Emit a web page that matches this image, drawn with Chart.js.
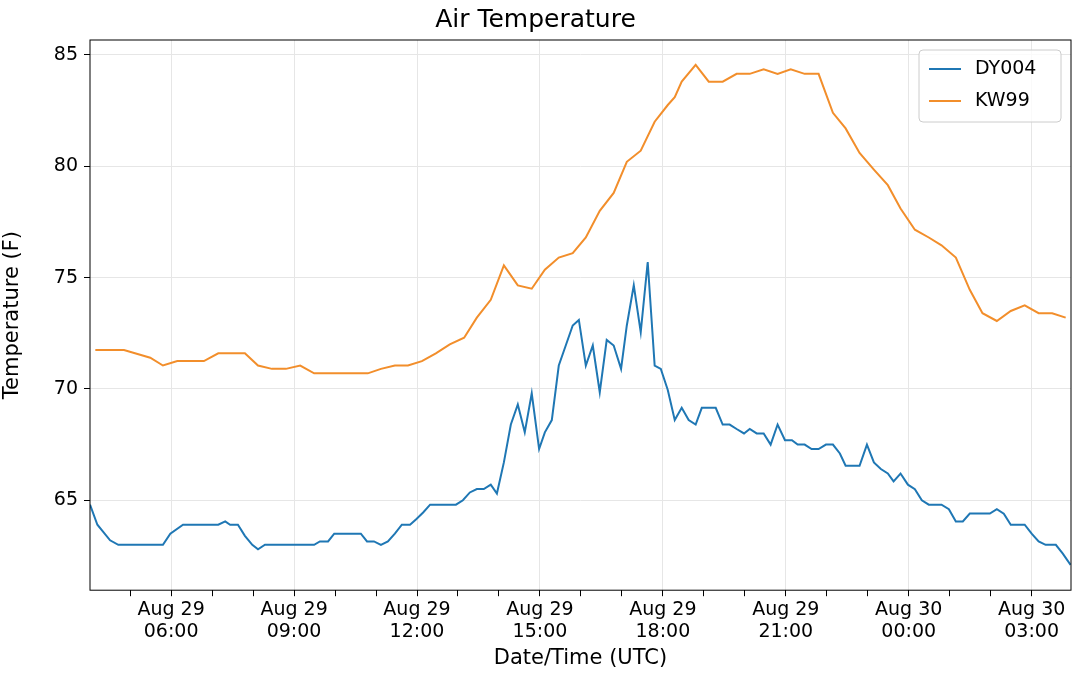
<!DOCTYPE html>
<html>
<head>
<meta charset="utf-8">
<script src="https://cdn.jsdelivr.net/npm/chart.js@4.4.0/dist/chart.umd.min.js"></script>
<style>
  html, body { margin: 0; padding: 0; background: #fff; }
  #wrap { width: 1080px; height: 679px; }
</style>
</head>
<body>
<div id="wrap"><canvas id="myChart"></canvas></div>
<script>
// horas desde Aug 29 00:00 UTC
const dyHoras = [4.02,4.20,4.51,4.71,5.80,5.98,6.29,7.15,7.32,7.44,7.63,7.80,7.98,8.12,8.29,9.49,9.63,9.83,9.98,10.63,10.78,10.95,11.12,11.29,11.46,11.63,11.83,11.98,12.15,12.32,12.95,13.12,13.29,13.46,13.63,13.80,13.95,14.12,14.29,14.46,14.63,14.80,14.98,15.12,15.29,15.46,15.63,15.80,15.95,16.12,16.29,16.46,16.63,16.80,16.98,17.12,17.29,17.46,17.63,17.80,17.95,18.12,18.29,18.46,18.63,18.80,18.95,19.29,19.46,19.63,19.80,19.98,20.12,20.29,20.46,20.63,20.80,20.98,21.15,21.29,21.46,21.63,21.80,21.98,22.15,22.32,22.46,22.63,22.80,22.98,23.15,23.32,23.49,23.63,23.80,23.98,24.15,24.32,24.49,24.80,24.98,25.15,25.32,25.49,25.98,26.15,26.32,26.49,26.83,27.00,27.17,27.34,27.59,27.76,27.95];
const dyTemp = [64.8,63.9,63.2,63.0,63.0,63.5,63.9,63.9,64.05,63.9,63.9,63.4,63.0,62.8,63.0,63.0,63.15,63.15,63.5,63.5,63.15,63.15,63.0,63.15,63.5,63.9,63.9,64.15,64.45,64.8,64.8,65.0,65.35,65.5,65.5,65.7,65.3,66.7,68.4,69.3,68.05,69.8,67.3,68.05,68.6,71.05,71.95,72.85,73.1,71.05,71.95,69.85,72.2,71.95,70.9,72.85,74.65,72.55,75.7,71.05,70.9,69.95,68.6,69.15,68.6,68.4,69.15,69.15,68.4,68.4,68.2,68.0,68.2,68.0,68.0,67.5,68.4,67.7,67.7,67.5,67.5,67.3,67.3,67.5,67.5,67.1,66.55,66.55,66.55,67.5,66.7,66.4,66.2,65.85,66.2,65.7,65.5,65.0,64.8,64.8,64.6,64.05,64.05,64.4,64.4,64.6,64.4,63.9,63.9,63.5,63.15,63.0,63.0,62.6,62.1];

const kwHoras = [4.15,4.85,5.49,5.80,6.15,6.80,7.15,7.80,8.12,8.46,8.80,9.15,9.49,10.80,11.12,11.46,11.78,12.12,12.46,12.80,13.15,13.46,13.80,14.12,14.46,14.80,15.12,15.46,15.80,16.12,16.46,16.80,17.12,17.46,17.80,18.12,18.29,18.46,18.80,19.12,19.46,19.80,20.12,20.46,20.80,21.12,21.46,21.80,22.15,22.46,22.80,23.15,23.49,23.80,24.15,24.49,24.80,25.15,25.49,25.80,26.15,26.49,26.83,27.17,27.50,27.83];
const kwTemp = [71.75,71.75,71.4,71.05,71.25,71.25,71.6,71.6,71.05,70.9,70.9,71.05,70.7,70.7,70.9,71.05,71.05,71.25,71.6,72.0,72.3,73.2,74.0,75.55,74.65,74.5,75.35,75.9,76.1,76.8,78.0,78.8,80.2,80.7,82.0,82.75,83.1,83.8,84.55,83.8,83.8,84.15,84.15,84.35,84.15,84.35,84.15,84.15,82.4,81.7,80.6,79.85,79.15,78.1,77.15,76.8,76.45,75.9,74.45,73.4,73.05,73.5,73.75,73.4,73.4,73.2];

const yTicks = [65, 70, 75, 80, 85];
const xMayores = [6, 9, 12, 15, 18, 21, 24, 27];

const fuente = "'DejaVu Sans', sans-serif";

function pares(xs, ys) {
    return xs.map((x, i) => ({ x: x, y: ys[i] }));
}

function etiquetaHora(h) {
    const dia = h >= 24 ? "Aug 30" : "Aug 29";
    const hh = String(h % 24).padStart(2, "0");
    return [dia, hh + ":00"];
}

// marco y leyenda al estilo matplotlib
const marcoPlugin = {
    id: 'marco',
    afterDraw(chart) {
        const ctx = chart.ctx;
        const a = chart.chartArea;
        ctx.save();
        ctx.strokeStyle = '#000';
        ctx.lineWidth = 1;
        ctx.strokeRect(a.left, a.top, a.right - a.left, a.bottom - a.top);

        // leyenda
        const ds = chart.data.datasets;
        const bx = 919, by = 50, bw = 142, bh = 72;
        ctx.fillStyle = 'rgba(255,255,255,0.8)';
        ctx.strokeStyle = '#ccc';
        ctx.beginPath();
        ctx.roundRect(bx, by, bw, bh, 4);
        ctx.fill();
        ctx.stroke();
        ctx.font = "19px " + fuente;
        ctx.textBaseline = 'middle';
        ds.forEach((d, i) => {
            const yy = by + 19 + i * 32;
            ctx.strokeStyle = d.borderColor;
            ctx.lineWidth = 2;
            ctx.beginPath();
            ctx.moveTo(bx + 10, yy);
            ctx.lineTo(bx + 42, yy);
            ctx.stroke();
            ctx.fillStyle = '#000';
            ctx.fillText(d.label, bx + 56, yy);
        });
        ctx.restore();
    }
};

const ctx = document.getElementById('myChart');

new Chart(ctx, {
    type: 'line',
    data: {
        datasets: [{
            label: 'DY004',
            data: pares(dyHoras, dyTemp),
            borderColor: '#1f77b4',
            borderWidth: 2,
            pointRadius: 0,
            tension: 0
        }, {
            label: 'KW99',
            data: pares(kwHoras, kwTemp),
            borderColor: '#f28e2b',
            borderWidth: 2,
            pointRadius: 0,
            tension: 0
        }]
    },
    options: {
        responsive: true,
        maintainAspectRatio: false,
        animation: false,
        layout: { padding: { left: 0, right: 9, top: 0, bottom: 4 } },
        plugins: {
            legend: { display: false },
            tooltip: { enabled: false },
            title: {
                display: true,
                text: 'Air Temperature',
                color: '#000',
                font: { family: fuente, size: 25, weight: 'normal' },
                padding: { top: 5, bottom: 5 }
            }
        },
        scales: {
            x: {
                type: 'linear',
                min: 4.02,
                max: 27.96,
                afterBuildTicks(axis) {
                    const t = [];
                    for (let h = 5; h <= 27; h++) t.push({ value: h });
                    axis.ticks = t;
                },
                ticks: {
                    color: '#000',
                    font: { family: fuente, size: 19 },
                    autoSkip: false,
                    maxRotation: 0,
                    padding: 2,
                    callback: function (v) {
                        return xMayores.includes(v) ? etiquetaHora(v) : '';
                    }
                },
                grid: {
                    color: c => (c.tick && xMayores.includes(c.tick.value)) ? '#e6e6e6' : 'rgba(0,0,0,0)',
                    tickColor: '#000',
                    tickLength: 6
                },
                border: { display: false },
                title: {
                    display: true,
                    text: 'Date/Time (UTC)',
                    color: '#000',
                    font: { family: fuente, size: 21 },
                    padding: { top: 0 }
                }
            },
            y: {
                min: 60.96,
                max: 85.67,
                afterFit(axis) { axis.width = 90; },
                afterBuildTicks(axis) {
                    axis.ticks = yTicks.map(v => ({ value: v }));
                },
                ticks: {
                    color: '#000',
                    font: { family: fuente, size: 19 },
                    padding: 6
                },
                grid: { color: '#e6e6e6', tickColor: '#000', tickLength: 6 },
                border: { display: false },
                title: {
                    display: true,
                    text: 'Temperature (F)',
                    color: '#000',
                    font: { family: fuente, size: 21 },
                    padding: { top: 0, bottom: 0 }
                }
            }
        }
    },
    plugins: [marcoPlugin]
});
</script>
</body>
</html>
